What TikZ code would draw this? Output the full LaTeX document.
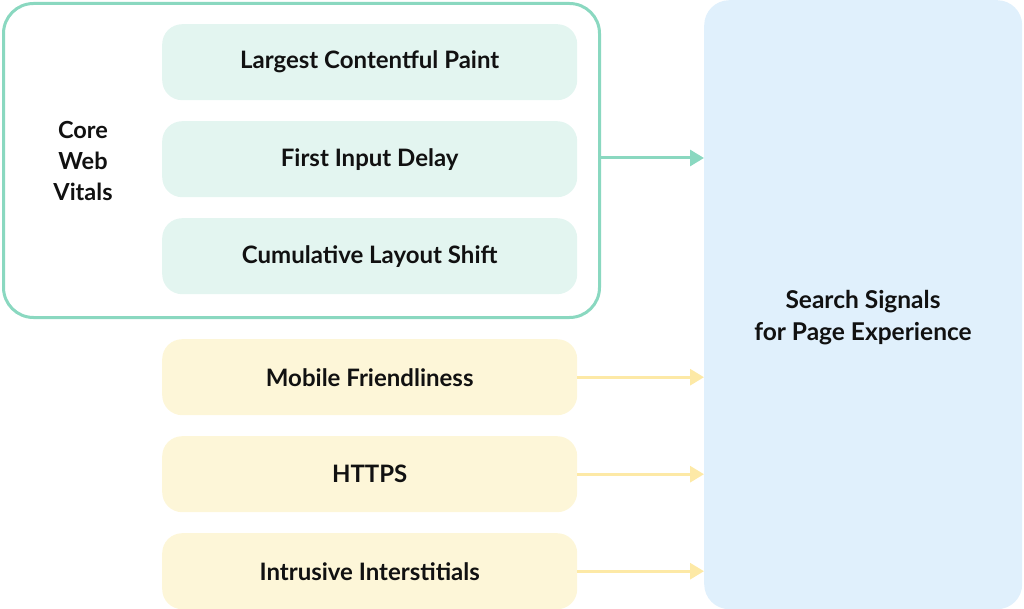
\documentclass[tikz,border=0pt]{standalone}
\usepackage{fontspec}
\setmainfont{Lato}
\usetikzlibrary{arrows.meta}
\definecolor{mint}{HTML}{8AD8C0}
\definecolor{mintfill}{HTML}{E3F5F0}
\definecolor{sand}{HTML}{FDE9A6}
\definecolor{sandfill}{HTML}{FDF6D8}
\definecolor{skyfill}{HTML}{E0F0FC}
\definecolor{ink}{HTML}{111111}
\tikzset{
  x=1pt, y=-1pt,
  metric/.style={draw=none, rounded corners=20pt, minimum width=415pt, minimum height=76pt, font=\fontsize{24}{28}\selectfont\bfseries, text=ink, anchor=north west},
  cwv/.style={metric, fill=mintfill},
  other/.style={metric, fill=sandfill},
  garrow/.style={draw=mint, line width=3pt, -{Triangle[length=14pt,width=16pt]}},
  yarrow/.style={draw=sand, line width=3pt, -{Triangle[length=14pt,width=16pt]}},
}
\begin{document}
\begin{tikzpicture}
\useasboundingbox (0,0) rectangle (1024,609);
\node[draw=mint, line width=3pt, rounded corners=30pt, minimum width=596pt, minimum height=314pt, anchor=north west, inner sep=0pt] (frame) at (2,2) {};
\node[cwv] (lcp) at (162,24) {Largest Contentful Paint};
\node[cwv] (fid) at (162,121) {First Input Delay};
\node[cwv] (cls) at (162,218) {Cumulative Layout Shift};
\node[align=center, font=\fontsize{23.5}{31}\selectfont\bfseries, text=ink] (core) at (83,161) {Core\\Web\\Vitals};
\node[other] (mob) at (162,339) {Mobile Friendliness};
\node[other] (https) at (162,436) {HTTPS};
\node[other] (intr) at (162,533) {Intrusive Interstitials};
\node[fill=skyfill, rounded corners=25pt, minimum width=318pt, minimum height=609pt, anchor=north west, inner sep=0pt] (sig) at (704,0) {};
\node[align=center, font=\fontsize{24.5}{32}\selectfont\bfseries, text=ink] (sigtxt) at (863,318) {Search Signals\\for Page Experience};
\draw[garrow] (frame.east |- 0,158) -- (sig.west |- 0,158);
\draw[yarrow] (mob.east) -- (sig.west |- mob.east);
\draw[yarrow] (https.east) -- (sig.west |- https.east);
\draw[yarrow] (intr.east) -- (sig.west |- intr.east);
\end{tikzpicture}
\end{document}
